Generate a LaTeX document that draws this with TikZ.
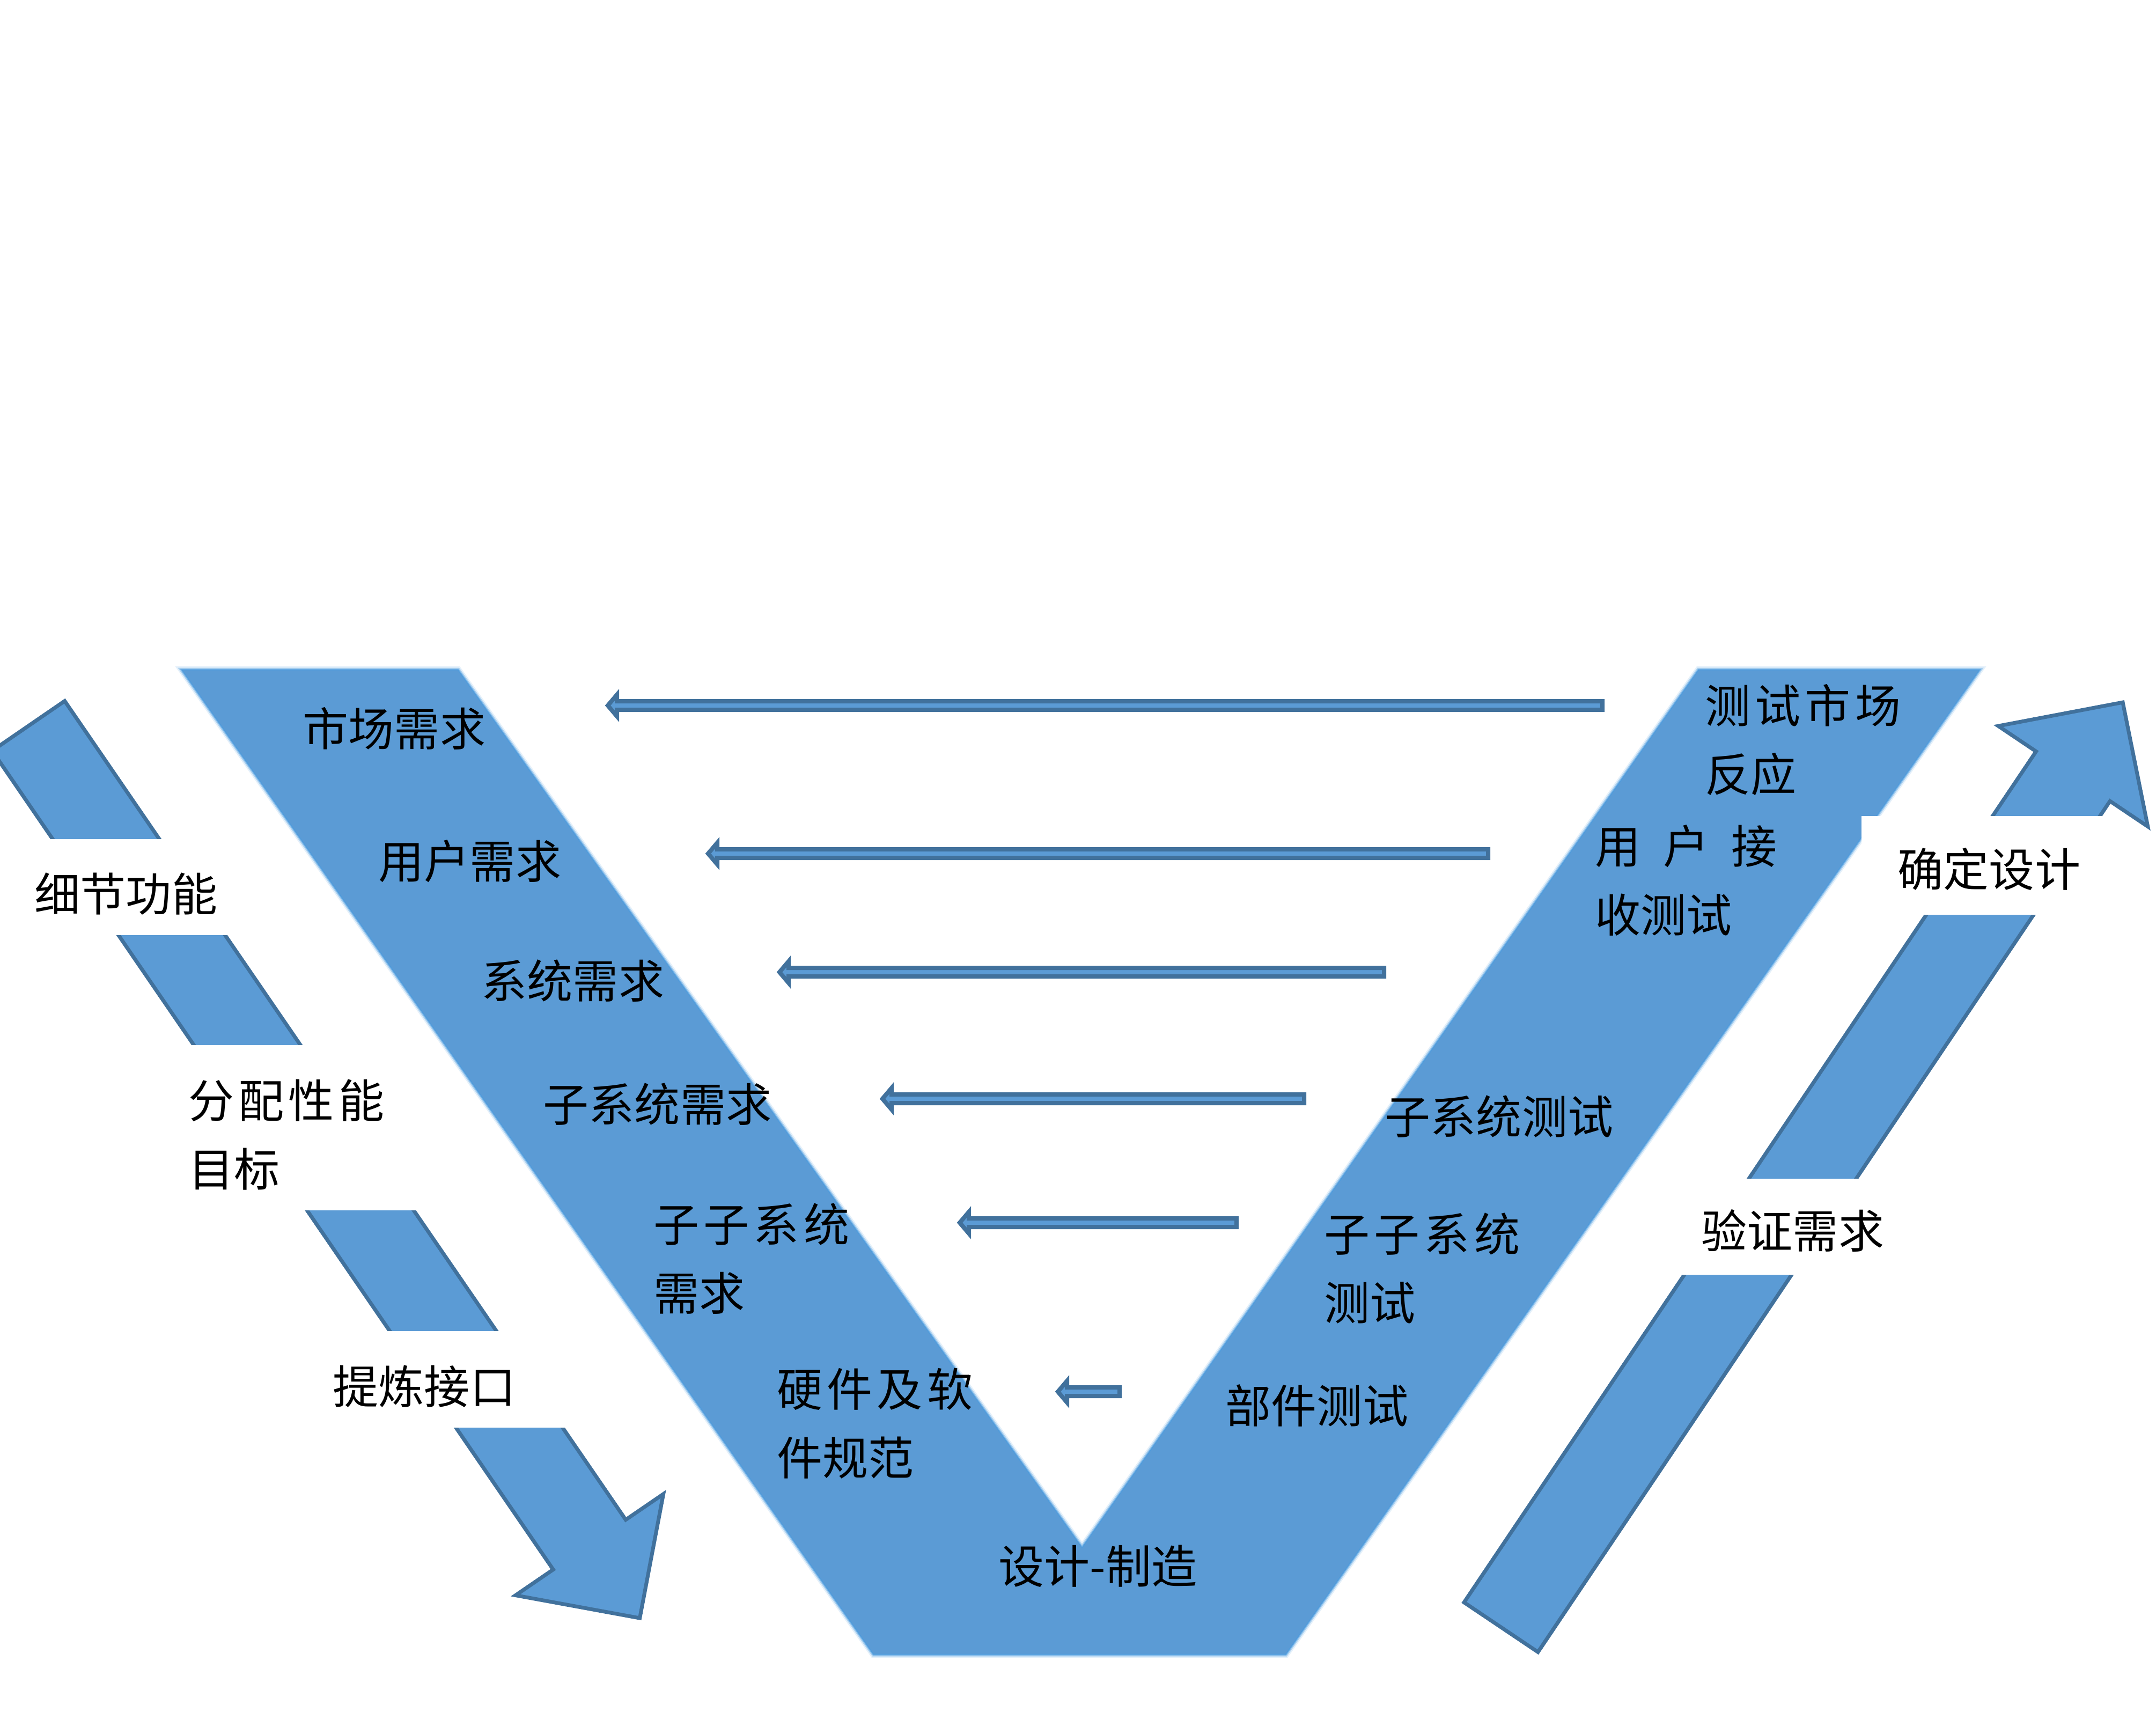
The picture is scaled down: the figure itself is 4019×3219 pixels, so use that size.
\documentclass[tikz,border=0pt]{standalone}
\usepackage{fontspec}
\setmainfont{Noto Sans CJK SC}
\definecolor{vblue}{HTML}{5B9BD5}
\definecolor{vedge}{HTML}{4A9BE0}
\definecolor{vline}{HTML}{41719C}
\tikzset{
  vshape/.style={fill=vblue},
  vglow/.style={draw=vedge, line join=miter},
  bigarrow/.style={fill=vblue, draw=vline, line width=0.07cm, line join=miter},
  harrowsty/.style={fill=vblue, draw=vline, line width=0.08cm, line join=miter},
  lbl/.style={anchor=west, inner sep=0pt, align=left, text=black,
              font=\fontsize{24.2pt}{36.4pt}\selectfont},
  whitebox/.style={fill=white},
}
% horizontal block arrow: #1 tail x, #2 tip x, #3 y
\newcommand{\harrowdraw}[3]{%
  \filldraw[harrowsty] (#1-4,#3-8) -- (#2+22,#3-8) -- (#2+22,#3-20) -- (#2+5,#3)
     -- (#2+22,#3+20) -- (#2+22,#3+8) -- (#1-4,#3+8) -- cycle;}
\newcommand{\js}{\kern0.08cm\relax}
\newcommand{\vpath}{(338,1248) -- (854,1248) -- (2017,2884) -- (3166,1248)
  -- (3691,1248) -- (2397,3084) -- (1628,3084) -- cycle}
\begin{document}
\begin{tikzpicture}[x=0.01cm,y=-0.01cm]
\useasboundingbox (0,0) rectangle (4019,3219);
\clip (0,0) rectangle (4019,3219);
\fill[white] (0,0) rectangle (4019,3219);

% the V with a soft edge
\draw[vglow, line width=0.12cm, opacity=0.15] \vpath;
\draw[vglow, line width=0.07cm, opacity=0.35] \vpath;
\fill[vshape] \vpath;
\draw[vglow, line width=0.03cm, opacity=0.6] \vpath;

% horizontal arrows (right to left)
\harrowdraw{2991}{1128}{1315}
\harrowdraw{2778}{1315}{1591}
\harrowdraw{2584}{1448}{1812}
\harrowdraw{2435}{1640}{2048}
\harrowdraw{2309}{1784}{2279}
\harrowdraw{2091}{1967}{2594}

% left big arrow (down-right)
\filldraw[bigarrow] (120.6,1306.6) -- (1166.4,2832.7) -- (1236.6,2784.7)
  -- (1192.6,3016.0) -- (961.0,2973.5) -- (1031.2,2925.5) -- (-14.6,1399.4) -- cycle;
% right big arrow (up-right)
\filldraw[bigarrow] (2729.1,2986.7) -- (3795.4,1400.6) -- (3724.9,1353.2)
  -- (3957.0,1309.1) -- (4003.7,1540.6) -- (3933.2,1493.2) -- (2866.9,3079.3) -- cycle;

% white label backgrounds cutting the side arrows
\fill[whitebox] (0,1564) rectangle (440,1743);
\fill[whitebox] (320,1948) rectangle (800,2256);
\fill[whitebox] (580,2481) rectangle (1100,2661);
\fill[whitebox] (3100,2197) rectangle (3560,2376);
\fill[whitebox] (3470,1521) rectangle (3925,1705);

% labels in the V (left branch)
\node[lbl] (scxq) at (564,1358) {市场需求};
\node[lbl] (yhxq) at (705,1605) {用户需求};
\node[lbl] (xtxq) at (897,1828) {系统需求};
\node[lbl] (zxtxq) at (1012,2058) {子系统需求};
\node[lbl] (zzxtxq) at (1218,2346) {子\js{}子\js{}系\js{}统\\需求};
\node[lbl] (yjrj) at (1448,2653) {硬\js{}件\js{}及\js{}软\\件规范};
\node[lbl] (sjzz) at (1861,2919) {设计-制造};
% labels in the V (right branch)
\node[lbl] (bjcs) at (2284,2620) {部件测试};
\node[lbl] (zzxtcs) at (2468,2364) {子\js{}子\js{}系\js{}统\\测试};
\node[lbl] (zxtcs) at (2581,2081) {子系统测试};
\node[lbl] (yhjs) at (2973,1641) {用\kern0.42cm\relax 户\kern0.42cm\relax 接\\收测试};
\node[lbl] (csscfy) at (3178,1379) {测\js{}试\js{}市\js{}场\\反应};
% side labels
\node[lbl] (xjgn) at (64,1666) {细节功能};
\node[lbl] (fpxn) at (351,2115) {分\js{}配\js{}性\js{}能\\目标};
\node[lbl] (tljk) at (620,2584) {提炼接口};
\node[lbl] (qdsj) at (3537,1620) {确定设计};
\node[lbl] (yzxq) at (3171,2294) {验证需求};
\end{tikzpicture}
\end{document}
